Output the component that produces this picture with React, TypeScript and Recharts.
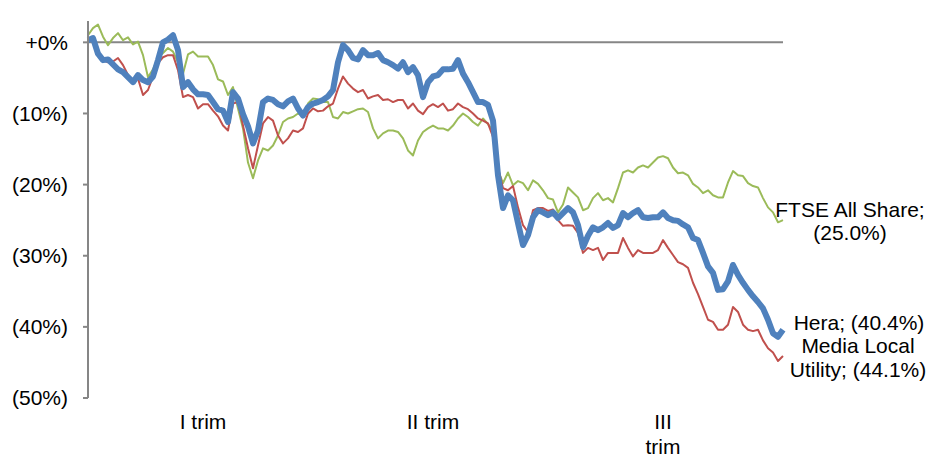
import { LineChart, Line, XAxis, YAxis, ReferenceLine } from 'recharts';

const FONT = '"Liberation Sans", Arial, sans-serif';

// Variazione % cumulata dall'inizio anno
const hera = [
  0.3, 0.6, -1.6, -2.5, -2.4, -3.1, -3.8, -4.2, -4.9, -5.6,
  -4.6, -5.3, -5.6, -4.8, -2.5, 0, 0.4, 1.0, -1.1, -6.3,
  -5.6, -6.6, -7.3, -7.3, -7.4, -8.4, -9.4, -9.6, -11.2, -7.0,
  -7.9, -10.1, -11.8, -14.2, -12.4, -8.4, -7.9, -8.1, -8.7, -9.0,
  -8.3, -7.9, -9.3, -10.3, -9.1, -8.6, -8.4, -8.1, -7.6, -6.7,
  -2.8, -0.4, -1.1, -2.2, -2.4, -1.1, -1.8, -1.8, -1.5, -2.5,
  -2.8, -3.2, -3.7, -2.8, -4.2, -3.5, -4.6, -7.7, -5.6, -4.8,
  -4.6, -3.8, -3.8, -3.7, -2.5, -4.4, -5.6, -7.0, -8.4, -8.4,
  -8.8, -11.0, -18.7, -23.3, -21.5, -22.2, -25.4, -28.5, -27.1, -24.6,
  -23.6, -23.9, -24.3, -23.9, -24.7, -24.0, -23.3, -23.9, -25.7, -28.8,
  -27.2, -26.0, -26.4, -26.0, -25.4, -26.1, -25.7, -24.0, -24.6, -24.0,
  -23.6, -24.6, -24.7, -24.6, -24.6, -23.9, -24.7, -25.0, -25.1, -25.6,
  -26.0, -27.5, -27.8, -29.6, -31.5, -32.4, -34.8, -34.7, -33.6, -31.3,
  -32.7, -33.8, -34.8, -35.7, -36.5, -37.4, -39.0, -40.9, -41.4, -40.4,
];

const mediaLocal = [
  0.6, 0.3, -1.4, -2.5, -2.8, -2.7, -2.2, -3.2, -4.6, -5.3,
  -5.1, -7.4, -6.7, -4.8, -2.9, -2.1, -1.8, -1.8, -3.9, -7.7,
  -7.4, -7.7, -9.3, -8.7, -8.7, -9.6, -10.4, -11.7, -12.4, -8.6,
  -8.4, -11.7, -14.9, -17.7, -14.5, -11.4, -10.5, -11.0, -13.1, -14.2,
  -13.5, -12.4, -12.6, -12.1, -10.0, -9.3, -9.7, -9.6, -9.0, -8.6,
  -6.5, -4.8, -5.8, -6.5, -7.0, -6.7, -7.9, -7.6, -7.4, -8.1,
  -8.0, -8.4, -8.1, -8.1, -9.3, -8.6, -9.6, -10.1, -9.1, -8.7,
  -9.1, -8.6, -9.6, -9.4, -8.6, -9.1, -9.4, -10.0, -10.7, -11.0,
  -11.4, -13.3, -17.6, -20.5, -20.8, -20.2, -23.2, -25.7, -26.7, -23.6,
  -23.3, -23.3, -23.7, -23.5, -25.0, -25.8, -25.7, -25.8, -26.8, -29.6,
  -28.9, -29.2, -28.9, -30.6, -29.6, -29.6, -29.6, -27.5, -28.9, -30.1,
  -29.2, -29.6, -29.6, -29.6, -29.2, -27.8, -28.9, -29.9, -30.9, -31.2,
  -31.7, -33.8, -35.4, -37.2, -39.0, -39.3, -40.4, -40.4, -39.7, -37.2,
  -37.9, -39.7, -40.4, -40.6, -40.4, -41.9, -43.0, -43.6, -44.8, -44.1,
];

const ftse = [
  1.0, 2.0, 2.5, 0.8, -0.4, 0.6, 1.3, 0.3, 0.7, -0.3,
  0.1, -1.8, -4.9, -3.8, -2.2, -1.5, -0.8, -1.3, -2.8, -4.4,
  -1.7, -1.3, -2.0, -2.0, -2.0, -3.2, -5.2, -5.5, -7.4, -6.3,
  -9.3, -12.1, -16.9, -19.1, -16.6, -14.9, -15.2, -14.5, -13.1, -11.2,
  -10.7, -10.5, -10.0, -10.3, -8.6, -7.9, -8.0, -8.4, -8.4, -10.5,
  -10.7, -9.8, -10.0, -9.7, -9.4, -9.3, -9.8, -12.1, -13.5, -12.8,
  -12.4, -12.4, -12.6, -13.5, -15.2, -15.9, -13.8, -12.6, -12.1, -11.7,
  -12.1, -12.1, -12.4, -11.7, -10.7, -10.0, -10.5, -11.2, -11.7, -10.7,
  -11.5, -12.4, -18.0, -19.8, -18.3, -20.1, -19.5, -19.8, -20.8, -19.4,
  -19.9, -20.8, -21.9, -22.1, -23.9, -22.8, -20.4, -21.1, -21.8, -23.6,
  -23.3, -21.9, -21.2, -22.2, -21.9, -22.5, -20.5, -18.3, -18.0, -18.3,
  -17.6, -17.3, -17.6, -16.9, -16.2, -16.0, -16.3, -17.6, -18.4, -18.3,
  -18.7, -19.9, -20.4, -21.2, -20.8, -21.5, -21.8, -21.8, -19.7, -18.1,
  -18.7, -18.8, -19.8, -20.2, -20.4, -21.9, -23.2, -23.9, -25.3, -25.0,
];

const quarterIndex = [23, 69, 115];
const quarterLabels = [['I trim'], ['II trim'], ['III', 'trim']];
const yTicks = [-50, -40, -30, -20, -10, 0];

const heraLabel = ['Hera; (40.4%)'];
const mediaLabel = ['Media Local', 'Utility; (44.1%)'];
const ftseLabel = ['FTSE All Share;', '(25.0%)'];

const data = hera.map((v, i) => ({
  i,
  hera: v,
  media: mediaLocal[i],
  ftse: ftse[i],
}));

const last = data.length - 1;

function fmtY(v: number) {
  return v === 0 ? '+0%' : `(${Math.abs(v)}%)`;
}

function QuarterTick({ x, y, payload }: any) {
  const k = quarterIndex.indexOf(payload.value);
  const lines = quarterLabels[k] ?? [];
  return (
    <text x={x} y={y} textAnchor="middle" fontSize={21} fontFamily={FONT} fill="#000">
      {lines.map((l, j) => (
        <tspan key={j} x={x} dy={j === 0 ? 31 : 25}>{l}</tspan>
      ))}
    </text>
  );
}

// etichetta sull'ultimo punto della serie
function endLabel(lines: string[], dx: number, dy: number, gap: number) {
  return (props: any) => {
    if (props.index !== last) return null;
    const cx = Number(props.x) + dx;
    return (
      <text x={cx} y={Number(props.y) + dy} textAnchor="middle" fontSize={21} fontFamily={FONT} fill="#000">
        {lines.map((l, j) => (
          <tspan key={j} x={cx} dy={j === 0 ? 0 : gap}>{l}</tspan>
        ))}
      </text>
    );
  };
}

export default function App() {
  return (
    <div style={{ position: 'absolute', left: 0, top: 0, background: '#fff' }}>
      <LineChart
        width={931}
        height={457}
        data={data}
        margin={{ top: 21, right: 148, bottom: 0, left: 0 }}
      >
        <XAxis
          dataKey="i"
          type="number"
          domain={[0, last]}
          ticks={quarterIndex}
          axisLine={false}
          tickLine={false}
          tickSize={0}
          tickMargin={0}
          height={59}
          tick={<QuarterTick />}
          interval={0}
        />
        <YAxis
          type="number"
          domain={[-50, 3]}
          ticks={yTicks}
          allowDataOverflow
          width={88}
          tickFormatter={fmtY}
          axisLine={{ stroke: '#868686', strokeWidth: 2 }}
          tickLine={{ stroke: '#868686', strokeWidth: 2 }}
          tickSize={5}
          tickMargin={15}
          tick={{ fontSize: 21, fontFamily: FONT, fill: '#000' }}
          interval={0}
        />
        <ReferenceLine y={0} stroke="#868686" strokeWidth={2} />
        <Line
          dataKey="ftse"
          stroke="#9BBB59"
          strokeWidth={2}
          dot={false}
          activeDot={false}
          strokeLinejoin="round"
          isAnimationActive={false}
          label={endLabel(ftseLabel, 67, -3, 23)}
        />
        <Line
          dataKey="media"
          stroke="#C0504D"
          strokeWidth={2}
          dot={false}
          activeDot={false}
          strokeLinejoin="round"
          isAnimationActive={false}
          label={endLabel(mediaLabel, 75, -3, 24)}
        />
        <Line
          dataKey="hera"
          stroke="#4F81BD"
          strokeWidth={6}
          dot={false}
          activeDot={false}
          strokeLinejoin="round"
          isAnimationActive={false}
          label={endLabel(heraLabel, 76, 0, 0)}
        />
      </LineChart>
    </div>
  );
}
